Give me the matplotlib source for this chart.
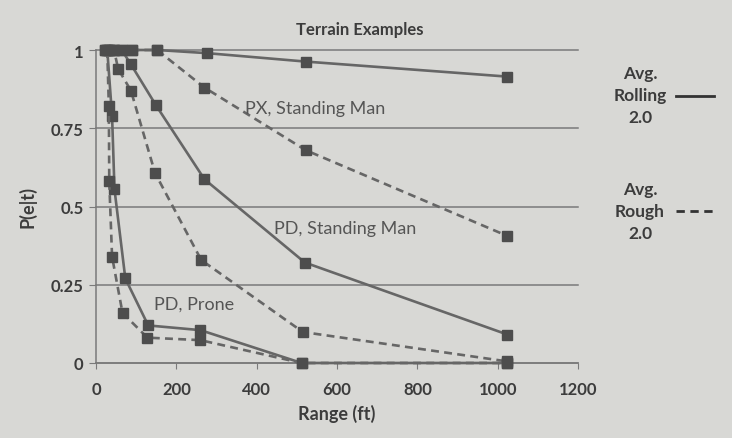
import matplotlib
matplotlib.use("Agg")
import matplotlib.pyplot as plt
from matplotlib.lines import Line2D

plt.rcParams['font.family'] = ['Lato', 'DejaVu Sans']

# ---- data ----
px_roll_x = [22, 40, 64, 90, 152, 276, 522, 1024]
px_roll_y = [1.0, 1.0, 1.0, 1.0, 1.0, 0.99, 0.963, 0.915]

px_rough_x = [22, 45, 90, 152, 270, 522, 1024]
px_rough_y = [1.0, 1.0, 1.0, 1.0, 0.88, 0.68, 0.406]

pd_roll_x = [32, 64, 87, 149, 270, 520, 1024]
pd_roll_y = [1.0, 1.0, 0.954, 0.824, 0.587, 0.321, 0.091]

pd_rough_x = [32, 45, 55, 87, 147, 262, 515, 1024]
pd_rough_y = [1.0, 1.0, 0.94, 0.87, 0.607, 0.329, 0.099, 0.005]

pr_roll_x = [28, 40, 46, 73, 130, 260, 512, 1024]
pr_roll_y = [1.0, 0.79, 0.555, 0.27, 0.12, 0.105, 0.0, 0.0]

pr_rough_x = [28, 32, 33, 40, 66, 128, 260, 512, 1024]
pr_rough_y = [1.0, 0.82, 0.58, 0.34, 0.16, 0.081, 0.073, 0.0, 0.0]

x_ticks = [0, 200, 400, 600, 800, 1000, 1200]
y_ticks = [0, 0.25, 0.5, 0.75, 1]
y_tick_labels = ['0', '0.25', '0.5', '0.75', '1']

bg = '#d8d8d5'
ink = '#3c3c3c'
line_c = '#666666'
mark_c = '#4d4d4d'

fig = plt.figure(figsize=(7.32, 4.39), dpi=100, facecolor=bg)
ax = fig.add_axes([96/732, 1-364/439, 482/732, 313/439])
ax.set_facecolor(bg)

ax.set_xlim(0, 1200)
ax.set_ylim(0, 1)

for y in y_ticks:
    ax.plot([0, 1200], [y, y], color='#7a7a7a', lw=1.1, zorder=1, clip_on=False)

series = [
    (px_roll_x, px_roll_y, '-'),
    (px_rough_x, px_rough_y, '--'),
    (pd_roll_x, pd_roll_y, '-'),
    (pd_rough_x, pd_rough_y, '--'),
    (pr_roll_x, pr_roll_y, '-'),
    (pr_rough_x, pr_rough_y, '--'),
]
for xs, ys, ls in series:
    ax.plot(xs, ys, linestyle=ls, color=line_c, lw=1.9,
            dashes=(3, 2) if ls == '--' else (None, None),
            marker='s', markersize=7.5, markerfacecolor=mark_c,
            markeredgecolor=mark_c, zorder=3, clip_on=False)

for s in ['top', 'right']:
    ax.spines[s].set_visible(False)
ax.spines['left'].set_color('#7a7a7a')
ax.spines['bottom'].set_color('#7a7a7a')
ax.spines['left'].set_linewidth(1.1)
ax.spines['bottom'].set_linewidth(1.1)

ax.set_xticks(x_ticks)
ax.set_xticklabels([str(v) for v in x_ticks])
ax.set_yticks(y_ticks)
ax.set_yticklabels(y_tick_labels)
ax.tick_params(axis='x', length=4, color='#7a7a7a', labelsize=12,
               labelcolor=ink, pad=9)
ax.tick_params(axis='y', length=5, color='#7a7a7a', labelsize=12,
               labelcolor=ink, pad=4)
for lab in ax.get_xticklabels() + ax.get_yticklabels():
    lab.set_fontweight('bold')

ax.set_xlabel('Range (ft)', fontsize=13, color=ink, fontweight='bold', labelpad=5)
ax.set_ylabel('P(e|t)', fontsize=13, color=ink, fontweight='bold', labelpad=10)

fig.text(360/732, 1-30/439, 'Terrain Examples', ha='center', va='center',
         fontsize=12, color=ink, fontweight='bold')

ax.text(545, 0.815, 'PX, Standing Man', ha='center', va='center',
        fontsize=13, color='#555555')
ax.text(620, 0.43, 'PD, Standing Man', ha='center', va='center',
        fontsize=13, color='#555555')
ax.text(245, 0.19, 'PD, Prone', ha='center', va='center',
        fontsize=13, color='#555555')

fig.text(640/732, 1-96/439, 'Avg.\nRolling\n2.0', ha='center', va='center',
         fontsize=12.5, color=ink, fontweight='bold', linespacing=1.45)
fig.text(640/732, 1-212/439, 'Avg.\nRough\n2.0', ha='center', va='center',
         fontsize=12.5, color=ink, fontweight='bold', linespacing=1.45)
fig.add_artist(Line2D([676/732, 714/732], [1-97/439, 1-97/439],
                      color='#333333', lw=2))
fig.add_artist(Line2D([676/732, 714/732], [1-212/439, 1-212/439],
                      color='#333333', lw=2, linestyle='--', dashes=(3, 2)))

fig.savefig('out.png', dpi=100, facecolor=bg)
